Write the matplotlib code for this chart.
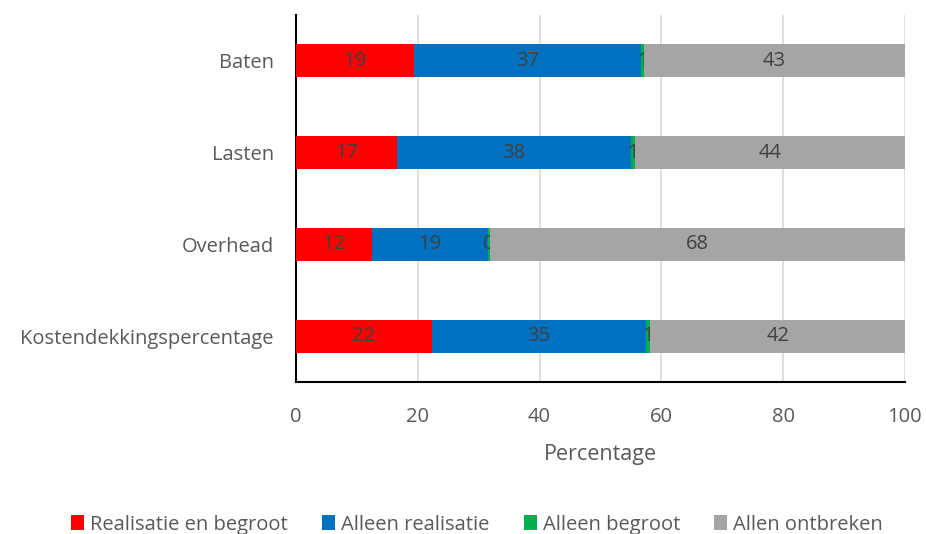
import numpy as np
import matplotlib.pyplot as plt

categories = ['Baten', 'Lasten', 'Overhead', 'Kostendekkingspercentage']
series = ['Realisatie en begroot', 'Alleen realisatie', 'Alleen begroot', 'Allen ontbreken']
real_begr = [19.4, 16.6, 12.4, 22.3]
alleen_real = [37.2, 38.4, 19.2, 35.2]
alleen_begr = [0.6, 0.6, 0.2, 0.7]
ontbreken = [42.8, 44.4, 68.2, 41.8]
colors = ['#ff0000', '#0070c0', '#00b050', '#a5a5a5']

plt.rcParams['font.family'] = ['Open Sans', 'DejaVu Sans']
txt = '#595959'

fig = plt.figure(figsize=(9.26, 5.34), dpi=100)
ax = fig.add_axes([0.3197, 0.2846, 0.6576, 0.6873])

y = np.arange(len(categories))
left = np.zeros(len(categories))
for name, vals, c in zip(series, [real_begr, alleen_real, alleen_begr, ontbreken], colors):
    vals = np.array(vals)
    bars = ax.barh(y, vals, left=left, height=0.36, color=c, label=name, zorder=3)
    ax.bar_label(bars, labels=[f'{v:.0f}' for v in vals], label_type='center',
                 color='#404040', fontsize=14.5)
    left += vals

ax.set_xlim(0, 100)
ax.set_ylim(len(categories) - 0.5, -0.5)
ax.set_yticks(y)
ax.set_yticklabels(categories)
ax.set_xticks(range(0, 101, 20))
ax.tick_params(length=0, labelsize=14.5, colors=txt)
ax.tick_params(axis='x', pad=18)
ax.tick_params(axis='y', pad=16)
ax.grid(axis='x', color='#d9d9d9', lw=1.2, zorder=0)
for s in ['top', 'right']:
    ax.spines[s].set_visible(False)
for s in ['left', 'bottom']:
    ax.spines[s].set_color('black')
    ax.spines[s].set_linewidth(1.5)
ax.set_xlabel('Percentage', fontsize=15.5, color=txt, labelpad=12)

fig.legend(loc='lower center', bbox_to_anchor=(0.515, -0.035), ncol=4, frameon=False,
           fontsize=14.5, labelcolor=txt, handlelength=0.65, handleheight=0.75,
           handletextpad=0.3, columnspacing=1.7)

plt.savefig('out.png', dpi=100)
